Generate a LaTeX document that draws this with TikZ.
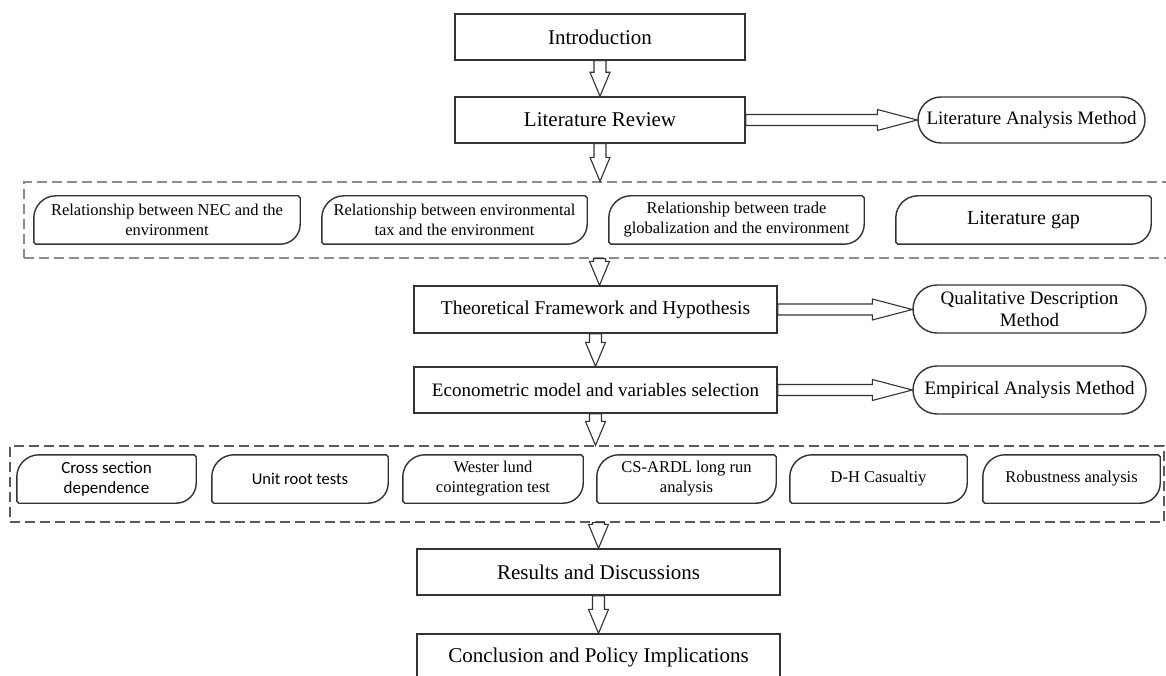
\documentclass[tikz,border=0pt]{standalone}
\usepackage{fontspec}
\setmainfont{Liberation Serif}
\newfontfamily\sansf{Carlito}
\usetikzlibrary{calc}
\definecolor{boxc}{HTML}{333333}
\definecolor{dashc}{HTML}{8C8C8C}
\definecolor{dashd}{HTML}{5A5A5A}
\tikzset{
  mainbox/.style={draw=boxc, line width=1.4pt, minimum height=46pt, inner sep=2pt, font=\fontsize{21}{25}\selectfont},
  midbox/.style={draw=boxc, line width=1.4pt, minimum width=363pt, minimum height=47pt, inner sep=2pt, font=\fontsize{19.5}{23}\selectfont},
  methbox/.style={draw=boxc, line width=1.4pt, minimum width=233pt, minimum height=48pt, rounded corners=24pt, inner sep=2pt, align=center, font=\fontsize{19}{22}\selectfont},
  leafnode/.style={minimum height=48pt, inner sep=1pt, align=center, font=\fontsize{16.5}{20}\selectfont},
  leafline/.style={draw=boxc, line width=1.4pt, line join=round},
  dashbox/.style={draw=dashc, line width=1.3pt, dash pattern=on 10pt off 5pt},
  blk/.style={draw=boxc, fill=white, line width=1.1pt, line join=miter},
}
\newcommand{\leafdraw}[1]{%
  \draw[leafline] ([yshift=-22pt]#1.north west) .. controls ([yshift=-10pt]#1.north west) and ([xshift=10pt]#1.north west) .. ([xshift=22pt]#1.north west)
    -- ([xshift=-2pt]#1.north east) -- ([yshift=-2pt]#1.north east) -- ([yshift=20pt]#1.south east) .. controls ([yshift=9pt]#1.south east) and ([xshift=-9pt]#1.south east) .. ([xshift=-20pt]#1.south east)
    -- ([xshift=2pt]#1.south west) -- ([yshift=2pt]#1.south west) -- cycle;}
% vertical hollow arrow: from, to, node giving the x position
\newcommand{\varr}[3]{%
  \draw[blk] ($(#1.south -| #3)+(-6,0)$) -- ($(#2.north -| #3)+(-6,-24)$) -- ($(#2.north -| #3)+(-10,-24)$)
    -- (#2.north -| #3) -- ($(#2.north -| #3)+(10,-24)$) -- ($(#2.north -| #3)+(6,-24)$) -- ($(#1.south -| #3)+(6,0)$) -- cycle;}
% horizontal hollow arrow
\newcommand{\harr}[2]{%
  \draw[blk] ($(#1.east)+(0,-5.5)$) -- ($(#2.west |- #1.east)+(-40,-5.5)$) -- ($(#2.west |- #1.east)+(-40,-10.5)$)
    -- (#2.west |- #1.east) -- ($(#2.west |- #1.east)+(-40,10.5)$) -- ($(#2.west |- #1.east)+(-40,5.5)$) -- ($(#1.east)+(0,5.5)$) -- cycle;}
\begin{document}
\begin{tikzpicture}[x=1pt,y=-1pt]
\useasboundingbox (0,0) rectangle (1166,676);
\fill[white] (0,0) rectangle (1166,676);
\clip (0,0) rectangle (1166,676);

% dashed groups
\node[dashbox, minimum width=1151pt, minimum height=76pt] (d1) at (599.5,220) {};
\node[dashbox, draw=dashd, minimum width=1154pt, minimum height=76pt] (d2) at (587,484) {};

% main column
\node[mainbox, minimum width=290pt] (intro) at (600,37) {Introduction};
\node[mainbox, minimum width=290pt] (litrev) at (600,120) {Literature Review};
\node[midbox] (theo) at (595.5,309.5) {Theoretical Framework and Hypothesis};
\node[midbox, minimum height=46pt, font=\fontsize{19}{23}\selectfont] (econ) at (595.5,390) {Econometric model and variables selection};
\node[mainbox, minimum width=363pt] (res) at (598.5,572) {Results and Discussions};
\node[mainbox, minimum width=363pt] (concl) at (598.5,657) {Conclusion and Policy Implications};

% methods
\node[methbox, minimum width=227pt, minimum height=46pt, rounded corners=23pt] (lam) at (1031.5,120) {Literature Analysis Method};
\node[methbox] (qdm) at (1029.5,309) {Qualitative Description\\Method};
\node[methbox] (eam) at (1029.5,390) {Empirical Analysis Method};

% row 1
\node[leafnode, minimum width=266pt] (r11) at (167,220) {Relationship between NEC and the\\environment};
\node[leafnode, minimum width=265pt] (r12) at (454.5,220) {Relationship between environmental\\tax and the environment};
\node[leafnode, minimum width=255pt] (r13) at (736.5,220) {Relationship between trade\\globalization and the environment};
\node[leafnode, minimum width=255pt, font=\fontsize{20}{24}\selectfont] (r14) at (1023.5,220) {Literature gap};
\foreach \n in {r11,r12,r13,r14} {\leafdraw{\n}}

% row 2
\node[leafnode, minimum width=179pt, font=\sansf\fontsize{17}{20}\selectfont] (r21) at (106.5,479) {Cross section\\dependence};
\node[leafnode, minimum width=176pt, font=\sansf\fontsize{16.5}{20}\selectfont] (r22) at (300,479) {Unit root tests};
\node[leafnode, minimum width=180pt] (r23) at (493,479) {Wester lund\\cointegration test};
\node[leafnode, minimum width=179pt] (r24) at (686.5,479) {CS-ARDL long run\\analysis};
\node[leafnode, minimum width=177pt] (r25) at (878.5,479) {D-H Casualtiy};
\node[leafnode, minimum width=177pt] (r26) at (1071.5,479) {Robustness analysis};
\foreach \n in {r21,r22,r23,r24,r25,r26} {\leafdraw{\n}}

% arrows
\varr{intro}{litrev}{intro}
\varr{litrev}{d1}{litrev}
\varr{d1}{theo}{d1}
\varr{theo}{econ}{theo}
\varr{econ}{d2}{econ}
\varr{d2}{res}{res}
\varr{res}{concl}{res}
\harr{litrev}{lam}
\harr{theo}{qdm}
\harr{econ}{eam}
\end{tikzpicture}
\end{document}
